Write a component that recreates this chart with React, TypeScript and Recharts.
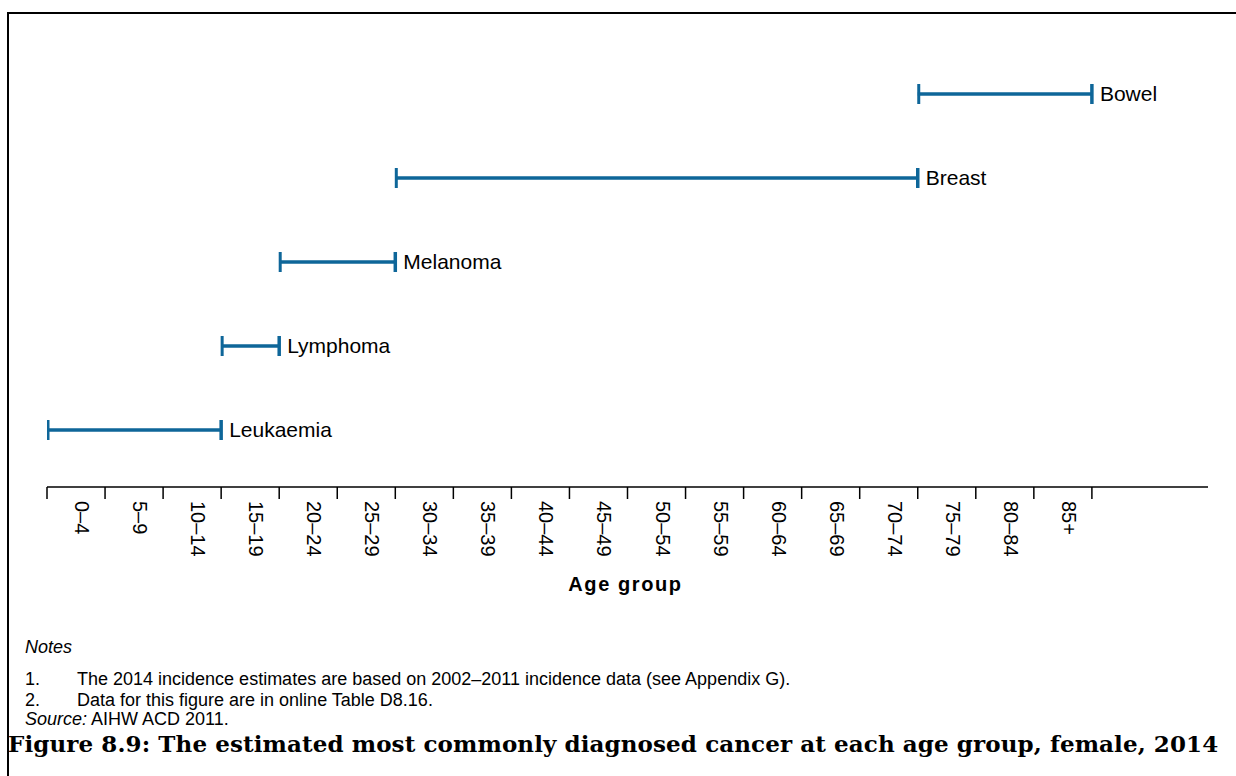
import React from "react";
import { BarChart, Bar, XAxis, YAxis } from "recharts";

// rows, top to bottom
const cancers = ["Bowel", "Breast", "Melanoma", "Lymphoma", "Leukaemia"];
// index into ageGroups of first and last age group where the cancer is most common
const firstAgeGroup = [15, 6, 4, 3, 0];
const lastAgeGroup = [17, 14, 5, 3, 2];

const ageGroups = [
  "0–4", "5–9", "10–14", "15–19", "20–24", "25–29", "30–34", "35–39", "40–44",
  "45–49", "50–54", "55–59", "60–64", "65–69", "70–74", "75–79", "80–84", "85+",
];

const notes = [
  "The 2014 incidence estimates are based on 2002–2011 incidence data (see Appendix G).",
  "Data for this figure are in online Table D8.16.",
];

const data = cancers.map((name, i) => ({
  name,
  span: [firstAgeGroup[i], lastAgeGroup[i] + 1],
}));
const boundaryTicks = ageGroups.map((_, i) => i).concat(ageGroups.length);
const labelTicks = ageGroups.map((_, i) => i + 0.5);

const BLUE = "#0e6699";
const SANS = '"Liberation Sans", Arial, sans-serif';

function RangeShape(props: any) {
  const { x, y, width, height } = props;
  const name = props.payload?.name ?? props.name;
  const cy = y + height / 2;
  const x2 = x + width;
  return (
    <g>
      <line x1={x} y1={cy} x2={x2} y2={cy} stroke={BLUE} strokeWidth={3.5} />
      <line x1={x + 1} y1={cy - 10} x2={x + 1} y2={cy + 10} stroke={BLUE} strokeWidth={3} />
      <line x1={x2} y1={cy - 10} x2={x2} y2={cy + 10} stroke={BLUE} strokeWidth={3.5} />
      <text x={x2 + 8} y={cy} dy="0.35em" fontSize={21} fontFamily={SANS} fill="#000">
        {name}
      </text>
    </g>
  );
}

// boundary axis only shows tick marks
function NoTick() {
  return null;
}

function AgeTick(props: any) {
  const { x, y, payload } = props;
  const label = ageGroups[Math.floor(payload.value)];
  return (
    <text
      transform={`translate(${x - 1},${y + 5}) rotate(90)`}
      fontSize={20}
      fontFamily={SANS}
      fill="#000"
      textAnchor="start"
    >
      {label}
    </text>
  );
}

function AxisTitle(props: any) {
  const { viewBox } = props;
  const cx = viewBox.x + viewBox.width / 2 - 2;
  return (
    <text x={cx} y={viewBox.y + 103} textAnchor="middle" fontSize={20} fontWeight="bold" letterSpacing={1.6} fontFamily={SANS} fill="#000">
      Age group
    </text>
  );
}

export default function App() {
  const line = (top: number, content: React.ReactNode) => (
    <div style={{ position: "absolute", left: 25, top, fontFamily: SANS, fontSize: 18, lineHeight: "19px", color: "#000", whiteSpace: "nowrap" }}>
      {content}
    </div>
  );
  return (
    <div style={{ position: "absolute", left: 0, top: 0, width: 1236, height: 776, background: "#fff", overflow: "hidden" }}>
      <div style={{ position: "absolute", left: 7, top: 12, width: 1300, height: 800, borderLeft: "2px solid #000", borderTop: "2px solid #000" }} />
      <div style={{ position: "absolute", left: 0, top: 0 }}>
        <BarChart
          layout="vertical"
          width={1236}
          height={610}
          data={data}
          margin={{ top: 52, right: 28, bottom: 22, left: 47 }}
        >
          <YAxis type="category" dataKey="name" hide padding={{ top: 0, bottom: 15 }} />
          <XAxis
            xAxisId={0}
            type="number"
            domain={[0, 20]}
            allowDataOverflow
            ticks={boundaryTicks}
            interval={0}
            tick={<NoTick />}
            tickSize={12}
            height={1}
            axisLine={{ stroke: "#000", strokeWidth: 1.5 }}
            tickLine={{ stroke: "#000", strokeWidth: 1.5 }}
          />
          <XAxis
            xAxisId={1}
            type="number"
            domain={[0, 20]}
            allowDataOverflow
            ticks={labelTicks}
            interval={0}
            tick={<AgeTick />}
            tickLine={false}
            axisLine={false}
            height={100}
            label={<AxisTitle />}
          />
          <Bar xAxisId={0} dataKey="span" barSize={20} shape={<RangeShape />} isAnimationActive={false} />
        </BarChart>
      </div>
      {line(638, <i>Notes</i>)}
      {notes.map((n, i) =>
        line(670 + i * 21, (
          <>
            <span style={{ display: "inline-block", width: 52 }}>{i + 1}.</span>
            {n}
          </>
        ))
      )}
      {line(710, <><i>Source:</i> AIHW ACD 2011.</>)}
      <div style={{ position: "absolute", left: 8, top: 734, fontFamily: '"DejaVu Serif", serif', fontWeight: "bold", fontSize: 23, lineHeight: "20px", letterSpacing: 0.1, color: "#000", whiteSpace: "nowrap" }}>
        Figure 8.9: The estimated most commonly diagnosed cancer at each age group, female, 2014
      </div>
    </div>
  );
}
